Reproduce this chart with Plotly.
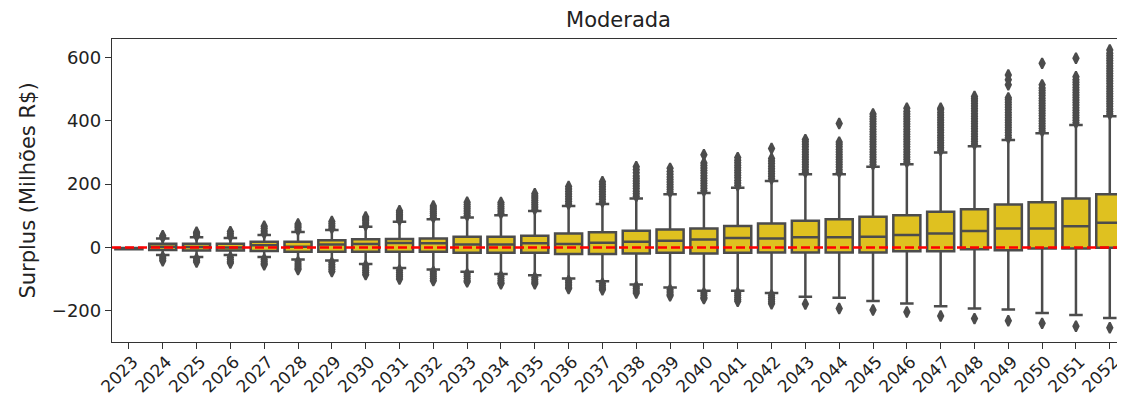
import plotly.graph_objects as go

# ---------------- data ----------------
years = ["2023", "2024", "2025", "2026", "2027", "2028", "2029", "2030", "2031", "2032",
         "2033", "2034", "2035", "2036", "2037", "2038", "2039", "2040", "2041", "2042",
         "2043", "2044", "2045", "2046", "2047", "2048", "2049", "2050", "2051", "2052"]

q1 = [-6, -8, -10, -10, -11, -14, -14, -14, -14, -14,
      -17, -17, -17, -21, -21, -19, -17, -19, -17, -16,
      -16, -16, -16, -12, -12, -6, -9, -3, -3, -1]
median = [-4, 2, 1, 0, 7, 2, 9, 11, 14, 13,
          9, 9, 13, 11, 15, 18, 21, 25, 30, 28,
          32, 32, 34, 39, 44, 52, 60, 60, 67, 78]
q3 = [-2, 12, 12, 12, 18, 18, 23, 26, 27, 28,
      34, 34, 37, 44, 48, 53, 57, 60, 68, 76,
      84, 89, 97, 102, 113, 121, 136, 143, 155, 168]
lower_fence = [-6, -24, -30, -24, -30, -38, -41, -52, -65, -70,
               -77, -84, -88, -98, -107, -117, -127, -137, -137, -144,
               -156, -159, -169, -177, -186, -193, -196, -207, -214, -223]
upper_fence = [-2, 28, 32, 30, 39, 49, 55, 65, 81, 89,
               95, 102, 115, 131, 137, 155, 168, 172, 189, 210,
               231, 231, 255, 263, 300, 320, 340, 361, 387, 415]

outliers_high = [
    [],
    [32, 37],
    [37, 43, 48],
    [36, 43, 50],
    [45, 52, 60, 67],
    [55, 62, 68, 74],
    [61, 68, 75, 82],
    [70, 77, 84, 90, 96],
    [87, 93, 99, 105, 111, 116],
    [95, 101, 107, 113, 119, 125, 131],
    [101, 108, 115, 122, 129, 136, 143],
    [108, 115, 122, 129, 136, 142],
    [121, 128, 135, 142, 149, 156, 163, 170],
    [137, 145, 153, 161, 169, 177, 185, 193],
    [144, 152, 160, 168, 176, 184, 192, 200, 208],
    [162, 170, 178, 186, 194, 202, 210, 218, 226, 236, 246, 255],
    [175, 183, 191, 199, 207, 215, 223, 231, 240, 250],
    [179, 187, 195, 203, 211, 219, 227, 235, 243, 251, 259, 267, 293],
    [196, 204, 212, 220, 228, 236, 244, 252, 260, 268, 276, 284],
    [217, 225, 233, 241, 249, 257, 265, 273, 281, 313],
    [238, 246, 254, 262, 270, 278, 286, 294, 302, 310, 318, 326, 334, 341],
    [238, 246, 254, 262, 270, 278, 286, 294, 302, 310, 318, 326, 333, 392],
    [262, 270, 278, 286, 294, 302, 310, 318, 326, 334, 342, 350, 358, 366, 374, 382,
     390, 398, 406, 414, 422],
    [270, 278, 286, 294, 302, 310, 318, 326, 334, 342, 350, 358, 366, 374, 382, 390,
     398, 406, 414, 422, 430, 440],
    [307, 315, 323, 331, 339, 347, 355, 363, 371, 379, 387, 395, 403, 411, 419, 427,
     435, 440],
    [327, 335, 343, 351, 359, 367, 375, 383, 391, 399, 407, 415, 423, 431, 439, 447,
     455, 463, 470, 477],
    [347, 355, 363, 371, 379, 387, 395, 403, 411, 419, 427, 435, 443, 451, 459, 467,
     473, 514, 530, 545],
    [368, 376, 384, 392, 400, 408, 416, 424, 432, 440, 448, 456, 464, 472, 480, 488,
     496, 504, 514, 582],
    [394, 402, 410, 418, 426, 434, 442, 450, 458, 466, 474, 482, 490, 498, 506, 514,
     522, 530, 540, 598],
    [422, 430, 438, 446, 454, 462, 470, 478, 486, 494, 502, 510, 518, 526, 534, 542,
     550, 558, 566, 574, 582, 590, 598, 606, 614, 624],
]

outliers_low = [
    [],
    [-30, -36, -42],
    [-36, -41, -46],
    [-31, -38, -45, -49],
    [-37, -44, -50, -55],
    [-45, -52, -59, -65, -70],
    [-48, -55, -62, -69, -76],
    [-58, -65, -72, -79, -86],
    [-72, -79, -86, -93, -100],
    [-77, -84, -91, -98, -105],
    [-84, -91, -98, -105, -109],
    [-91, -98, -105, -112, -115],
    [-95, -102, -109, -115],
    [-105, -112, -119, -126, -130],
    [-114, -121, -128, -134],
    [-124, -131, -138, -144],
    [-134, -141, -148, -153],
    [-144, -151, -158, -162],
    [-144, -151, -158, -165, -170],
    [-151, -158, -165, -172, -178],
    [-179],
    [-193],
    [-198],
    [-204],
    [-217],
    [-225],
    [-232],
    [-240],
    [-249],
    [-254],
]

reference_level = 0
y_ticks = [-200, 0, 200, 400, 600]
y_tick_labels = ["\u2212200", "0", "200", "400", "600"]

# ---------------- style ----------------
FONT = "DejaVu Sans"
BOX_FILL = "rgb(223,193,32)"
GRAY = "rgb(76,76,76)"
AXIS = "#333333"
TXT = "#222222"

# the page places the figure 8px from the top-left corner of the window
FIG_W, FIG_H = 1117, 393

fig = go.Figure()

fig.add_trace(go.Box(
    x=years, q1=q1, median=median, q3=q3,
    lowerfence=lower_fence, upperfence=upper_fence,
    orientation="v", boxpoints=False,
    fillcolor=BOX_FILL, line=dict(color=GRAY, width=2.5),
    width=0.8, whiskerwidth=0.5, showlegend=False, hoverinfo="skip",
))

ox, oy = [], []
for yr, hi, lo in zip(years, outliers_high, outliers_low):
    for v in hi + lo:
        ox.append(yr)
        oy.append(v)

fig.add_trace(go.Scatter(
    x=ox, y=oy, mode="markers",
    marker=dict(symbol="diamond-tall", size=7.5, color=GRAY,
                line=dict(width=2, color=GRAY)),
    showlegend=False, hoverinfo="skip",
))

fig.add_shape(type="line", xref="paper", x0=0, x1=1, yref="y",
              y0=reference_level, y1=reference_level,
              line=dict(color="red", width=2.5, dash="9px,4px"), layer="above")

fig.update_layout(
    width=FIG_W, height=FIG_H,
    margin=dict(l=104, r=0, t=31, b=59, autoexpand=False),
    paper_bgcolor="white", plot_bgcolor="white",
    font=dict(family=FONT, color=TXT),
    title=dict(text="Moderada", x=0.5, xref="paper", xanchor="center",
               y=1 - 12 / FIG_H, yref="container", yanchor="middle",
               font=dict(size=21, family=FONT, color=TXT)),
    hovermode=False,
)

fig.update_xaxes(
    type="category", categoryorder="array", categoryarray=years,
    range=[-0.5, 29.45], automargin=False,
    showline=True, linecolor=AXIS, linewidth=1.3, mirror=True,
    ticks="outside", ticklen=6, tickwidth=1.3, tickcolor=AXIS,
    tickangle=-45, tickfont=dict(size=17, family=FONT, color=TXT),
    ticklabelshift=4, ticklabelstandoff=-4,
    showgrid=False, zeroline=False,
)

fig.update_yaxes(
    range=[-299, 659], automargin=False,
    tickmode="array", tickvals=y_ticks, ticktext=y_tick_labels,
    showline=True, linecolor=AXIS, linewidth=1.3, mirror=False,
    ticks="outside", ticklen=6, tickwidth=1.3, tickcolor=AXIS,
    tickfont=dict(size=18, family=FONT, color=TXT),
    title=dict(text="Surplus (Milhões R$)", font=dict(size=21, family=FONT, color=TXT),
               standoff=10),
    showgrid=False, zeroline=False,
)

fig.write_html("out.html")
